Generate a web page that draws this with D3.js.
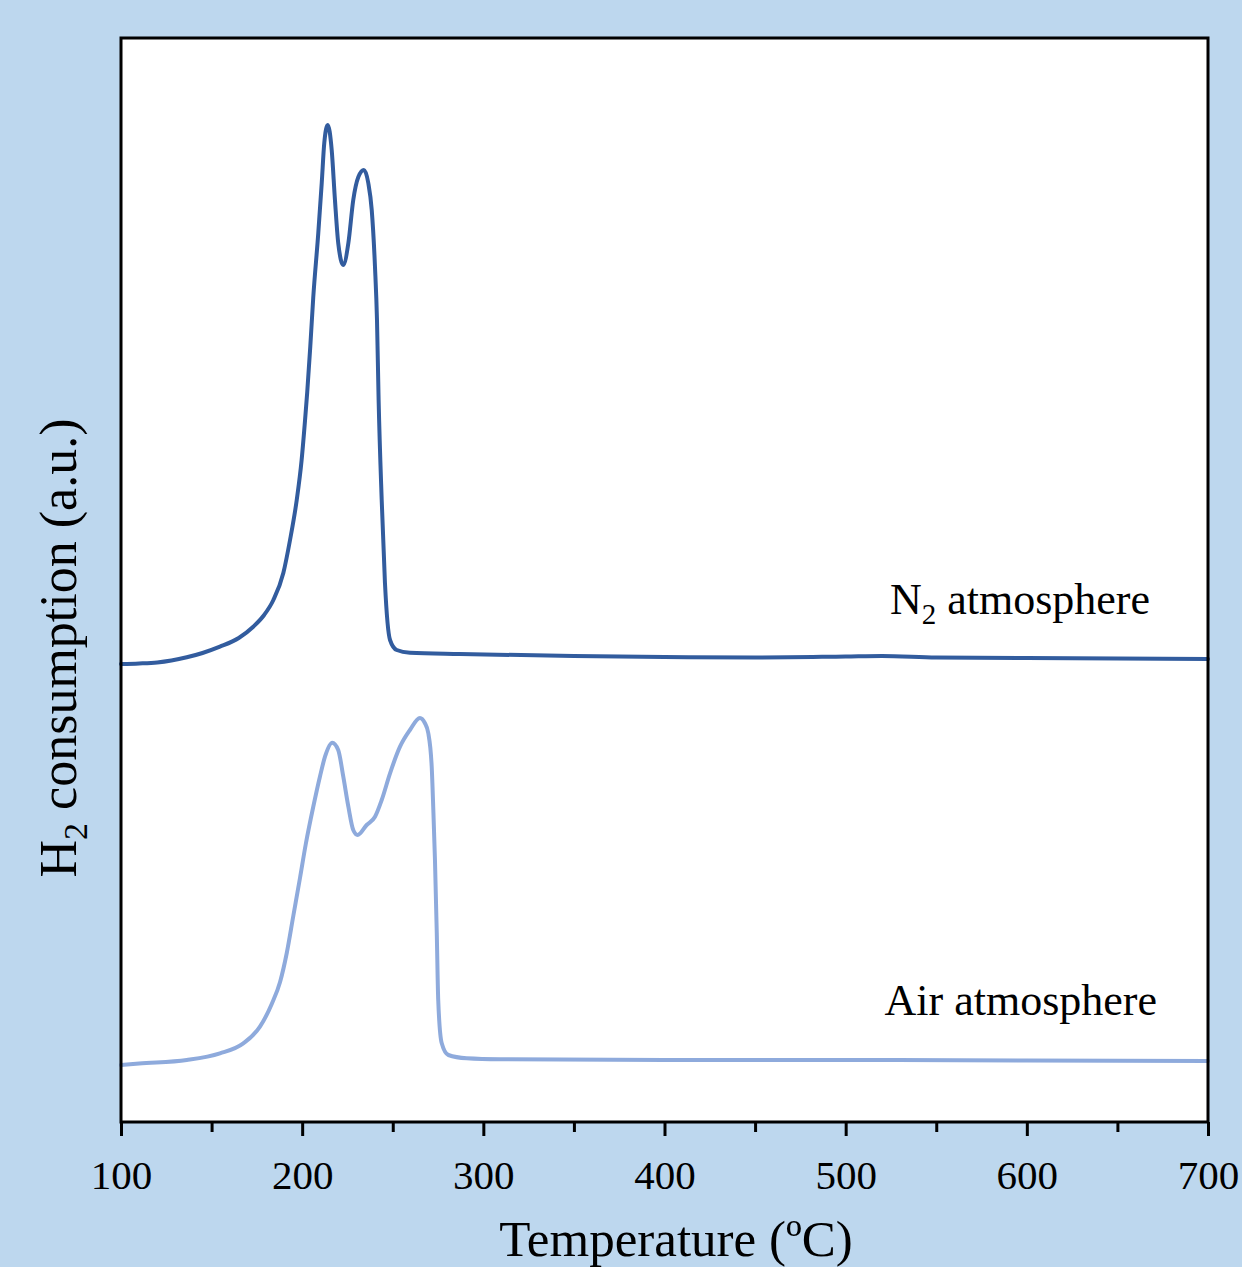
<!DOCTYPE html>
<html>
<head>
<meta charset="utf-8">
<script src="https://cdn.jsdelivr.net/npm/d3@7"></script>
<style>
  html, body { margin: 0; padding: 0; background: #BDD7EE; }
  svg { display: block; }
  text { font-family: "Liberation Serif", "Times New Roman", serif; fill: #000; }
</style>
</head>
<body>
<svg id="chart" width="1242" height="1267"></svg>
<script>
// ---- Data (temperature in ºC, H2 consumption in a.u.) ----
const n2Temp = [100, 110, 120, 136.3, 145, 154.6, 165, 173, 179, 184.1, 189.6, 193.3, 197, 199.7, 201.6, 202.8, 204.5, 206.1, 208.9, 210.8, 212.2, 214.1, 216.3, 218.1, 219.9, 222.7, 225.5, 228.2, 231, 234.1, 236.5, 238.4, 240.2, 241.3, 242.2, 243.9, 245.7, 248.5, 252.2, 259.5, 287, 350, 400, 450, 500, 520, 550, 600, 650, 700];
const n2Value = [45.8, 45.85, 45.95, 46.47, 46.9, 47.53, 48.4, 49.53, 50.7, 52.2, 54.9, 58.2, 62.2, 66.2, 70.2, 73.0, 77.6, 82.4, 88.9, 93.9, 97.9, 99.7, 97.2, 92.2, 87.9, 85.7, 87.9, 92.2, 94.5, 95.2, 93.9, 91.2, 85.5, 80.2, 72.2, 62.2, 53.9, 48.2, 47.2, 46.93, 46.8, 46.6, 46.5, 46.45, 46.55, 46.6, 46.45, 46.4, 46.35, 46.3];

const airTemp = [100, 110, 136.3, 154.6, 167.5, 176.7, 183.2, 187.8, 191.5, 195.1, 198.8, 202, 206.1, 209.8, 212.6, 216.6, 219.9, 222.7, 225.5, 228.2, 230.6, 235.6, 240.2, 243.9, 248.5, 254, 259.5, 265, 267.7, 269.6, 271.5, 272.4, 273.3, 274.3, 275.1, 277, 280.7, 290.8, 309.2, 400, 500, 600, 700];
const airValue = [5.7, 5.85, 6.2, 6.87, 7.87, 9.53, 11.8, 14.0, 16.9, 20.6, 24.4, 27.8, 31.5, 34.53, 36.53, 37.93, 37.2, 34.53, 31.53, 29.2, 28.7, 29.7, 30.53, 32.2, 34.87, 37.53, 39.2, 40.4, 39.9, 38.9, 35.53, 31.2, 26.2, 18.9, 12.2, 7.9, 6.7, 6.37, 6.27, 6.2, 6.2, 6.15, 6.1];

const xTicksMajor = [100, 200, 300, 400, 500, 600, 700];
const xTicksMinor = [150, 250, 350, 450, 550, 650];
const seriesNames = ["N\u2082 atmosphere", "Air atmosphere"];

// ---- Layout ----
const svg = d3.select("#chart");
const plot = { left: 121, right: 1208, top: 38, bottom: 1122 };

const x = d3.scaleLinear().domain([100, 700]).range([plot.left, plot.right]);
const y = d3.scaleLinear().domain([0, 108.4]).range([plot.bottom, plot.top]);

// plot area
svg.append("rect")
  .attr("x", plot.left).attr("y", plot.top)
  .attr("width", plot.right - plot.left).attr("height", plot.bottom - plot.top)
  .attr("fill", "#ffffff");

// lines
const line = d3.line().x(d => x(d[0])).y(d => y(d[1])).curve(d3.curveMonotoneX);
const n2Data = n2Temp.map((t, i) => [t, n2Value[i]]);
const airData = airTemp.map((t, i) => [t, airValue[i]]);

svg.append("path").datum(n2Data)
  .attr("d", line).attr("fill", "none")
  .attr("stroke", "#325C9E").attr("stroke-width", 4).attr("stroke-linejoin", "round").attr("stroke-linecap", "round");
svg.append("path").datum(airData)
  .attr("d", line).attr("fill", "none")
  .attr("stroke", "#8EAADC").attr("stroke-width", 4).attr("stroke-linejoin", "round").attr("stroke-linecap", "round");

// border
svg.append("rect")
  .attr("x", plot.left).attr("y", plot.top)
  .attr("width", plot.right - plot.left).attr("height", plot.bottom - plot.top)
  .attr("fill", "none").attr("stroke", "#000").attr("stroke-width", 3);

// x axis ticks
const axisMajor = d3.axisBottom(x).tickValues(xTicksMajor).tickSize(14).tickFormat(d3.format("d")).tickPadding(24);
const gx = svg.append("g").attr("transform", `translate(0,${plot.bottom})`).call(axisMajor);
gx.select(".domain").remove();
gx.selectAll(".tick line").attr("stroke", "#000").attr("stroke-width", 3);
gx.selectAll(".tick text").attr("font-size", 41).attr("font-family", "Liberation Serif").attr("fill", "#000");

const axisMinor = d3.axisBottom(x).tickValues(xTicksMinor).tickSize(10).tickFormat("");
const gm = svg.append("g").attr("transform", `translate(0,${plot.bottom})`).call(axisMinor);
gm.select(".domain").remove();
gm.selectAll(".tick line").attr("stroke", "#000").attr("stroke-width", 3);

// axis titles
svg.append("text")
  .attr("x", 676).attr("y", 1256)
  .attr("text-anchor", "middle").attr("font-size", 51)
  .text("Temperature (ºC)");

const yt = svg.append("text")
  .attr("transform", "translate(76,648) rotate(-90)")
  .attr("text-anchor", "middle").attr("font-size", 52);
yt.append("tspan").text("H");
yt.append("tspan").attr("font-size", 34).attr("dy", 11).text("2");
yt.append("tspan").attr("dy", -11).text(" consumption (a.u.)");

// series labels
const l1 = svg.append("text").attr("x", 1150).attr("y", 614).attr("text-anchor", "end").attr("font-size", 44);
l1.append("tspan").text("N");
l1.append("tspan").attr("font-size", 29).attr("dy", 10).text("2");
l1.append("tspan").attr("dy", -10).text(" atmosphere");

svg.append("text").attr("x", 1157).attr("y", 1015).attr("text-anchor", "end").attr("font-size", 44)
  .text(seriesNames[1]);
</script>
</body>
</html>
